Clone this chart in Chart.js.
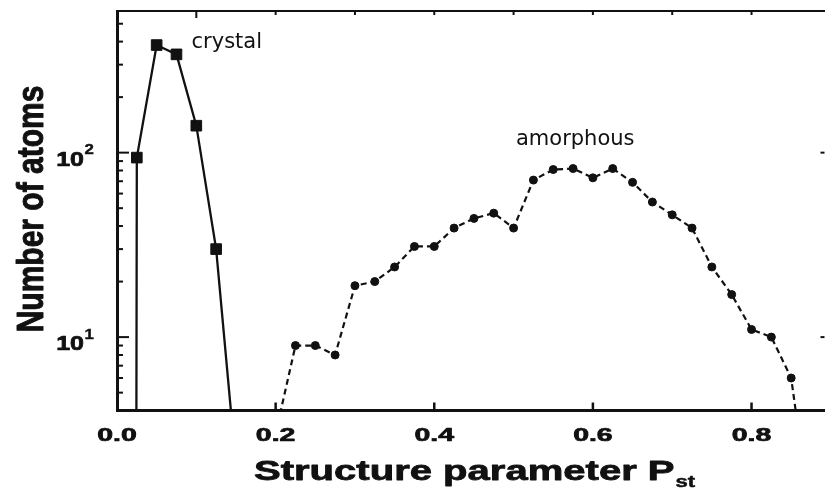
<!DOCTYPE html>
<html>
<head>
<meta charset="utf-8">
<script src="https://cdn.jsdelivr.net/npm/chart.js@4.4.1/dist/chart.umd.min.js"></script>
<style>
  html, body { margin: 0; padding: 0; background: #fff; }
  #wrap { width: 833px; height: 488px; position: relative; }
</style>
</head>
<body>
<div id="wrap"><canvas id="c" width="833" height="488"></canvas></div>
<script>
// Histogram of the structure parameter P_st (bin centres and atom counts)
const crystalP = [0.0, 0.025, 0.05, 0.075, 0.1, 0.125, 0.15];
const crystalCounts = [0, 94, 383, 341, 140, 30, 2];

const amorphousP = [0.2, 0.225, 0.25, 0.275, 0.3, 0.325, 0.35, 0.375, 0.4, 0.425,
                    0.45, 0.475, 0.5, 0.525, 0.55, 0.575, 0.6, 0.625, 0.65, 0.675,
                    0.7, 0.725, 0.75, 0.775, 0.8, 0.825, 0.85, 0.875];
const amorphousCounts = [3, 9, 9, 8, 19, 20, 24, 31, 31, 39,
                         44, 47, 39, 71, 81, 82, 73, 82, 69, 54,
                         46, 39, 24, 17, 11, 10, 6, 1];

// Axis ticks
const xTickValues = [0, 0.2, 0.4, 0.6, 0.8];
const xTickLabels = ['0.0', '0.2', '0.4', '0.6', '0.8'];
const topTickValues = [0.1, 0.2, 0.3, 0.4, 0.5, 0.6, 0.7, 0.8];
const yTickValues = [10, 100];
const yTickExponents = ['1', '2'];
const yMinorTicks = [4, 5, 6, 7, 8, 9, 20, 30, 40, 50, 60, 70, 80, 90, 200, 300, 400, 500];

// Series labels
const seriesNames = ['crystal', 'amorphous'];

const INK = '#111';
// Empty bins cannot sit on a log axis: park them far below the floor so the curve falls straight off the plot.
const LOG_FLOOR = 1e-60;

function toPoints(xs, ys) {
  return xs.map((px, i) => ({ x: px, y: Math.max(ys[i], LOG_FLOOR) }));
}

// Where the two curve names are written, in data coordinates
const nameAnchors = [
  { x: 0.094, y: 368 },
  { x: 0.503, y: 110 }
];

// Bold Helvetica-style text, widened and given a slight outline for weight
function stretched(ctx, text, x, y, sx, align, heavy) {
  ctx.save();
  ctx.translate(x, y);
  ctx.scale(sx, 1);
  ctx.textAlign = align;
  ctx.fillText(text, 0, 0);
  if (heavy) {
    ctx.lineWidth = heavy;
    ctx.lineJoin = 'round';
    ctx.strokeText(text, 0, 0);
  }
  ctx.restore();
}

const framePlugin = {
  id: 'frame',
  afterDraw(chart) {
    const { ctx, chartArea: a, scales } = chart;
    const xs = scales.x, ys = scales.y;
    ctx.save();
    ctx.strokeStyle = INK;
    ctx.lineCap = 'butt';
    const seg = (x1, y1, x2, y2, w) => {
      ctx.lineWidth = w;
      ctx.beginPath();
      ctx.moveTo(x1, y1);
      ctx.lineTo(x2, y2);
      ctx.stroke();
    };

    // inward tick marks
    yTickValues.forEach(v => {
      const py = ys.getPixelForValue(v);
      seg(a.left, py, a.left + 12, py, 2);
      seg(a.right - 4, py, a.right, py, 2);
    });
    yMinorTicks.forEach(v => {
      const py = ys.getPixelForValue(v);
      seg(a.left, py, a.left + 6, py, 2);
    });
    xTickValues.forEach(v => {
      if (v === 0) return;
      const px = xs.getPixelForValue(v);
      seg(px, a.bottom, px, a.bottom - 8, 2.5);
    });
    topTickValues.forEach((v, i) => {
      const px = xs.getPixelForValue(v);
      seg(px, a.top, px, a.top + (i === 0 ? 7 : 4), 2);
    });

    ctx.fillStyle = INK;
    ctx.textBaseline = 'alphabetic';

    // x tick labels
    ctx.font = 'bold 18px "Liberation Sans", Arial, sans-serif';
    xTickValues.forEach((v, i) => {
      stretched(ctx, xTickLabels[i], xs.getPixelForValue(v), a.bottom + 30.5, 1.58, 'center', 0.7);
    });

    // y tick labels: 10 with a raised exponent
    yTickValues.forEach((v, i) => {
      const py = ys.getPixelForValue(v);
      const edge = a.left - 33;
      ctx.font = 'bold 20px "Liberation Sans", Arial, sans-serif';
      stretched(ctx, '10', edge, py + 13, 1.25, 'right', 0.7);
      ctx.font = 'bold 14px "Liberation Sans", Arial, sans-serif';
      stretched(ctx, yTickExponents[i], edge + 0.5, py + 1.5, 1.2, 'left', 0.4);
    });

    // x axis title with subscript
    ctx.font = 'bold 28px "Liberation Sans", Arial, sans-serif';
    const main = 'Structure parameter P';
    const sxT = 1.43;
    const left = 254;
    stretched(ctx, main, left, a.bottom + 69.5, sxT, 'left', 0.8);
    const w = ctx.measureText(main).width * sxT;
    ctx.font = 'bold 17px "Liberation Sans", Arial, sans-serif';
    stretched(ctx, 'st', left + w + 1, a.bottom + 76, 1.3, 'left', 0.5);

    // y axis title
    ctx.save();
    ctx.translate(43, 209);
    ctx.rotate(-Math.PI / 2);
    ctx.scale(1, 1.23);
    ctx.font = 'bold 30px "Liberation Sans", Arial, sans-serif';
    ctx.textAlign = 'center';
    ctx.fillText('Number of atoms', 0, 0);
    ctx.lineWidth = 0.8;
    ctx.lineJoin = 'round';
    ctx.strokeText('Number of atoms', 0, 0);
    ctx.restore();

    // curve names
    ctx.font = '21px "DejaVu Sans", sans-serif';
    ctx.textAlign = 'left';
    nameAnchors.forEach((p, i) => {
      ctx.fillText(seriesNames[i], xs.getPixelForValue(p.x), ys.getPixelForValue(p.y));
    });

    ctx.restore();
  }
};

new Chart(document.getElementById('c'), {
  type: 'line',
  data: {
    datasets: [
      {
        label: seriesNames[0],
        data: toPoints(crystalP, crystalCounts),
        borderColor: INK,
        borderWidth: 2.3,
        pointStyle: 'rect',
        pointRadius: 7.5,
        pointBackgroundColor: INK,
        pointBorderColor: INK,
        pointBorderWidth: 1,
        tension: 0
      },
      {
        label: seriesNames[1],
        data: toPoints(amorphousP, amorphousCounts),
        borderColor: INK,
        borderWidth: 2.2,
        borderDash: [6, 4],
        pointStyle: 'circle',
        pointRadius: 4,
        pointBackgroundColor: INK,
        pointBorderColor: INK,
        pointBorderWidth: 1,
        tension: 0
      }
    ]
  },
  options: {
    responsive: false,
    animation: false,
    events: [],
    layout: { padding: { left: 117, top: 11, right: 0, bottom: 77.5 } },
    plugins: { legend: { display: false }, tooltip: { enabled: false } },
    scales: {
      x: {
        type: 'linear',
        position: 'bottom',
        min: 0,
        max: 0.892,
        ticks: { display: false },
        grid: { drawOnChartArea: false, drawTicks: false },
        border: { display: true, color: INK, width: 3 }
      },
      x2: {
        type: 'linear',
        position: 'top',
        min: 0,
        max: 0.892,
        ticks: { display: false },
        grid: { drawOnChartArea: false, drawTicks: false },
        border: { display: true, color: INK, width: 2 }
      },
      y: {
        type: 'logarithmic',
        position: 'left',
        min: 4,
        max: 586,
        ticks: { display: false },
        grid: { drawOnChartArea: false, drawTicks: false },
        border: { display: true, color: INK, width: 3 }
      }
    }
  },
  plugins: [framePlugin]
});
</script>
</body>
</html>
